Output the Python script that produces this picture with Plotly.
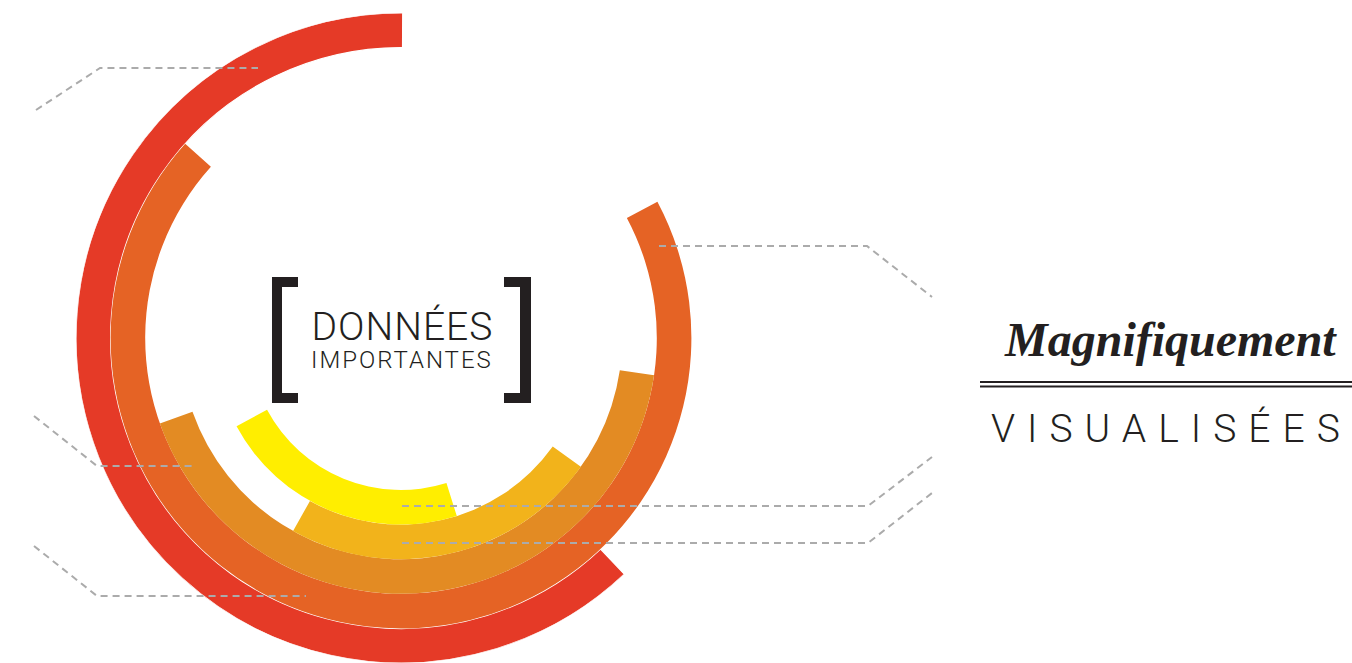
import plotly.graph_objects as go

W, H = 1352, 663

# ---- data (angles in degrees, clockwise from 12 o'clock) ----
rings = ["Anneau 1", "Anneau 2", "Anneau 3", "Anneau 4", "Anneau 5"]
start_deg = [136.6, 62.0, 98.4, 125.6, 162.6]
end_deg = [360.3, 312.0, 250.5, 209.2, 241.8]
colors = ["#E53A27", "#E56325", "#E38B23", "#F2B31B", "#FFEE00"]

title_main = "DONNÉES"
title_sub = "IMPORTANTES"
tag_script = "Magnifiquement"
tag_caps = "VISUALISÉES"

# ---- geometry ----
HOLE = 152.0
THICK = 34.6
R_MAX = 325.0


def X(px):
    return px / W


def Y(py):
    return 1 - py / H


fig = go.Figure()
n = len(rings)
for i, name in enumerate(rings):
    level = n - 1 - i  # outer ring first
    base = HOLE + level * THICK
    s, e = start_deg[i], end_deg[i]
    fig.add_trace(go.Barpolar(
        name=name,
        r=[THICK],
        base=[base],
        theta=[(s + e) / 2],
        width=[e - s],
        marker=dict(color=colors[i],
                    line=dict(color="white", width=1.2 if i == 0 else 0)),
        hoverinfo="name",
        showlegend=False,
    ))

cx = 401
fig.update_layout(
    width=W, height=H,
    margin=dict(l=0, r=0, t=0, b=0),
    paper_bgcolor="white",
    plot_bgcolor="white",
    showlegend=False,
    polar=dict(
        domain=dict(x=[X(cx - R_MAX), X(cx + R_MAX)], y=[0, (2 * R_MAX) / H]),
        bgcolor="rgba(0,0,0,0)",
        barmode="overlay",
        radialaxis=dict(range=[0, R_MAX], visible=False, showgrid=False),
        angularaxis=dict(visible=False, rotation=90, direction="clockwise",
                         showgrid=False),
    ),
)

# ---- leader lines (dashed) ----
leaders = [
    [(36, 110), (100, 68), (258, 68)],
    [(34, 416), (97, 466), (193, 466)],
    [(34, 546), (97, 596), (306, 596)],
    [(659, 246), (867, 246), (932, 297)],
    [(402, 506), (868, 506), (932, 457)],
    [(402, 543), (868, 543), (932, 493)],
]
for pts in leaders:
    path = "M " + " L ".join(f"{X(px):.5f},{Y(py):.5f}" for px, py in pts)
    fig.add_shape(type="path", path=path, xref="paper", yref="paper",
                  line=dict(color="#ABABAB", width=2, dash="7px,5px"),
                  fillcolor="rgba(0,0,0,0)", layer="above")

# ---- brackets ----
def poly(pts):
    return "M " + " L ".join(f"{X(px):.5f},{Y(py):.5f}" for px, py in pts) + " Z"

left_br = [(298, 277), (272, 277), (272, 403), (298, 403), (298, 393),
           (282, 393), (282, 287), (298, 287)]
right_br = [(504, 277), (531, 277), (531, 403), (504, 403), (504, 393),
            (520, 393), (520, 287), (504, 287)]
for b in (left_br, right_br):
    fig.add_shape(type="path", path=poly(b), xref="paper", yref="paper",
                  line=dict(width=0), fillcolor="#231F20", layer="above")

# ---- double rule ----
for yy in (382, 386.5):
    fig.add_shape(type="line", xref="paper", yref="paper",
                  x0=X(980), x1=X(1352), y0=Y(yy), y1=Y(yy),
                  line=dict(color="#231F20", width=1.8))

# ---- texts ----
def ann(text, x, y, size, family, weight=300, style="normal"):
    fig.add_annotation(text=text, x=X(x), y=Y(y), xref="paper", yref="paper",
                       xanchor="center", yanchor="middle", showarrow=False,
                       font=dict(size=size, family=family, color="#231F20",
                                 weight=weight, style=style))

ann(title_main, 402, 327, 39, "Roboto", 300)
ann(title_sub, 402, 360, 24, "Roboto", 300)
ann(tag_script, 1170, 340, 48, "Liberation Serif", 700, "italic")
ann(tag_caps, 1171, 429, 39, "Roboto", 300)

post = """
document.documentElement.style.margin = '0';
document.body.style.margin = '0';
document.body.style.padding = '0';
document.body.style.overflow = 'hidden';
var sp = {'VISUALISÉES':'12px','DONNÉES':'1px','IMPORTANTES':'2px'};
document.querySelectorAll('text.annotation-text').forEach(function(t){
  var s = sp[t.textContent]; if (s) { t.style.letterSpacing = s; }
});
"""

fig.write_html("out.html", post_script=post,
               config={"displayModeBar": False, "staticPlot": False})
